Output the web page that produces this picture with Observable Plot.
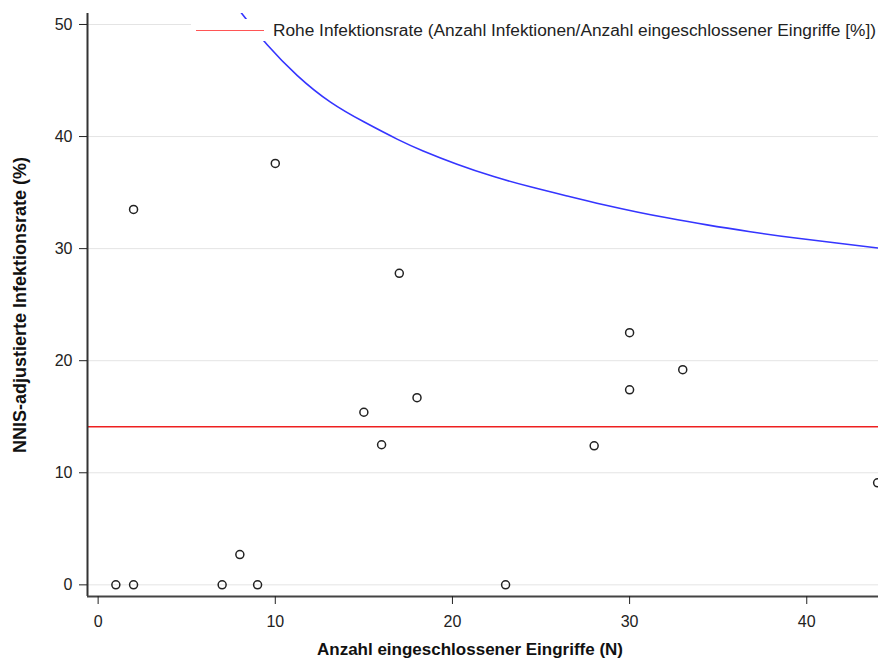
<!DOCTYPE html>
<html><head><meta charset="utf-8">
<script src="https://cdn.jsdelivr.net/npm/d3@7"></script>
<script src="https://cdn.jsdelivr.net/npm/@observablehq/plot@0.6"></script>
<style>
body{margin:0;background:#fff;font-family:"Liberation Sans",Arial,sans-serif;}
#wrap{position:relative;width:878px;height:661px;overflow:hidden;}
#legend{position:absolute;left:191px;top:19px;width:687px;height:22px;background:#fff;display:flex;align-items:center;font-size:17.3px;color:#222;white-space:nowrap;overflow:hidden}
#legend .swatch{display:inline-block;width:68px;height:0;border-top:1px solid #f55;margin-left:5px;margin-right:9px}
</style></head><body><div id="wrap"></div>
<script>
// Data
const nEingriffe = [1, 2, 7, 8, 9, 2, 10, 15, 16, 17, 18, 23, 28, 30, 30, 33, 44];
const nnisRate   = [0, 0, 0, 2.7, 0, 33.5, 37.6, 15.4, 12.5, 27.8, 16.7, 0, 12.4, 22.5, 17.4, 19.2, 9.1];
const rohRate = 14.1;
const limitN    = [8.0, 8.35, 9.44, 11.23, 13.12, 14.99, 17.06, 18.19, 20.26, 22.33, 24.40, 26.47, 28.54, 30.61, 31.92, 34.37, 36.81, 39.26, 41.70, 44.05];
const limitRate = [51.2, 50.5, 48.3, 45.35, 42.95, 41.3, 39.6, 38.8, 37.5, 36.4, 35.5, 34.7, 33.9, 33.2, 32.8, 32.1, 31.5, 30.95, 30.5, 30.05];
const xTicks = [0, 10, 20, 30, 40];
const yTicks = [0, 10, 20, 30, 40, 50];
const xDomain = [-0.6, 44.05];
const yDomain = [-1.04, 50.98];
const xTitle = "Anzahl eingeschlossener Eingriffe (N)";
const yTitle = "NNIS-adjustierte Infektionsrate (%)";
const legendLabel = "Rohe Infektionsrate (Anzahl Infektionen/Anzahl eingeschlossener Eingriffe [%])";

const points = nEingriffe.map((n, i) => ({n, rate: nnisRate[i]}));
const limit = limitN.map((n, i) => ({n, rate: limitRate[i]}));

const chart = Plot.plot({
  width: 878,
  height: 661,
  marginLeft: 87,
  marginRight: 0,
  marginTop: 13,
  marginBottom: 65,
  style: {fontFamily: '"Liberation Sans", Arial, sans-serif', fontSize: "16px", color: "#222", background: "#fff"},
  x: {domain: xDomain},
  y: {domain: yDomain},
  marks: [
    Plot.gridY(yTicks, {stroke: "#e4e4e4", strokeOpacity: 1}),
    Plot.ruleY([rohRate], {stroke: "#ee2020", strokeWidth: 1.5}),
    Plot.line(limit, {x: "n", y: "rate", stroke: "#3535ff", strokeWidth: 1.6, curve: "basis", clip: true}),
    Plot.dot(points, {x: "n", y: "rate", r: 4, stroke: "#222", strokeWidth: 1.5, fill: "none"}),
    Plot.ruleX([xDomain[0]], {stroke: "#333", strokeWidth: 2}),
    Plot.ruleY([yDomain[0]], {stroke: "#444", strokeWidth: 2}),
    Plot.axisX({ticks: xTicks, tickSize: 8, tickPadding: 11, label: null, tickFormat: d => d, fontSize: 16}),
    Plot.axisY({ticks: yTicks, tickSize: 8, tickPadding: 7, label: null, tickFormat: d => d, fontSize: 16}),
    Plot.text([yTitle], {frameAnchor: "left", rotate: -90, dx: -67, textAnchor: "middle", lineAnchor: "middle", fontWeight: "bold", fontSize: 18, fill: "#111"}),
    Plot.text([xTitle], {frameAnchor: "bottom", dy: 53, dx: -13, textAnchor: "middle", lineAnchor: "middle", fontWeight: "bold", fontSize: 17, fill: "#111"})
  ]
});

const wrap = document.getElementById("wrap");
wrap.appendChild(chart);
const legend = document.createElement("div");
legend.id = "legend";
const sw = document.createElement("span");
sw.className = "swatch";
const lbl = document.createElement("span");
lbl.textContent = legendLabel;
legend.appendChild(sw);
legend.appendChild(lbl);
wrap.appendChild(legend);
</script>
</body></html>
